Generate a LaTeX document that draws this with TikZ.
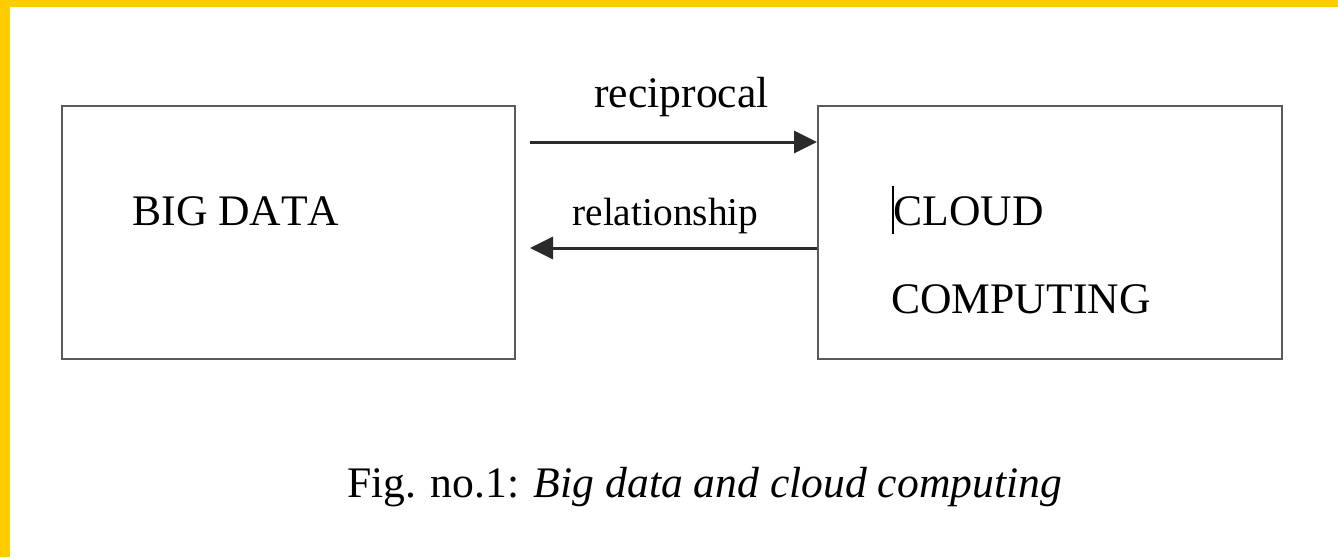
\documentclass[tikz,border=0pt]{standalone}
\usepackage{fontspec}
\setmainfont{Liberation Serif}
\usetikzlibrary{arrows.meta,calc}
\definecolor{band}{HTML}{FFCC00}
\definecolor{boxline}{HTML}{5A5A5A}
\definecolor{arrline}{HTML}{2A2A2A}
\tikzset{
  panel/.style={draw=boxline,line width=1pt,minimum width=#1,inner sep=0pt,minimum height=126.5pt},
  txt/.style={font=\fontsize{21.8pt}{26pt}\selectfont,inner sep=0pt,anchor=base west},
  smalltxt/.style={font=\fontsize{19.7pt}{24pt}\selectfont,inner sep=0pt,anchor=base west},
  link/.style={draw=arrline,line width=1.5pt,-{Triangle[length=11.5pt,width=11pt]}},
}
\begin{document}
\begin{tikzpicture}[x=0.5pt,y=-0.5pt]
\useasboundingbox (0,0) rectangle (1338,557);
\fill[white] (0,0) rectangle (1338,557);
\fill[band] (0,0) rectangle (1338,7);
\fill[band] (0,0) rectangle (10,557);
\node[panel=226.5pt] (big) at (288.5,232.5) {};
\node[panel=232pt] (cloud) at (1050,232.5) {};
\node[txt] (bigt) at (132,225) {\addfontfeatures{Kerning=Off}BIG DATA};
\node[txt] (cl1) at (893,225) {CLOUD};
\node[txt] (cl2) at (891,313) {COMPUTING};
\node[txt] (rec) at (594,107) {reciprocal};
\node[smalltxt] (rel) at (572,225) {relationship};
\node[txt] (cap) at (347,497) {Fig. no.1: \textit{Big data and cloud computing}};
\coordinate (a1) at (530,142);
\coordinate (a2) at (530,248);
\draw[link] (a1) -- (a1 -| cloud.west);
\draw[link] (a2 -| cloud.west) -- (a2);
\coordinate (c1) at (893,186);
\coordinate (c2) at (893,234);
\draw[line width=0.7pt] (c1) -- (c2);
\end{tikzpicture}
\end{document}
